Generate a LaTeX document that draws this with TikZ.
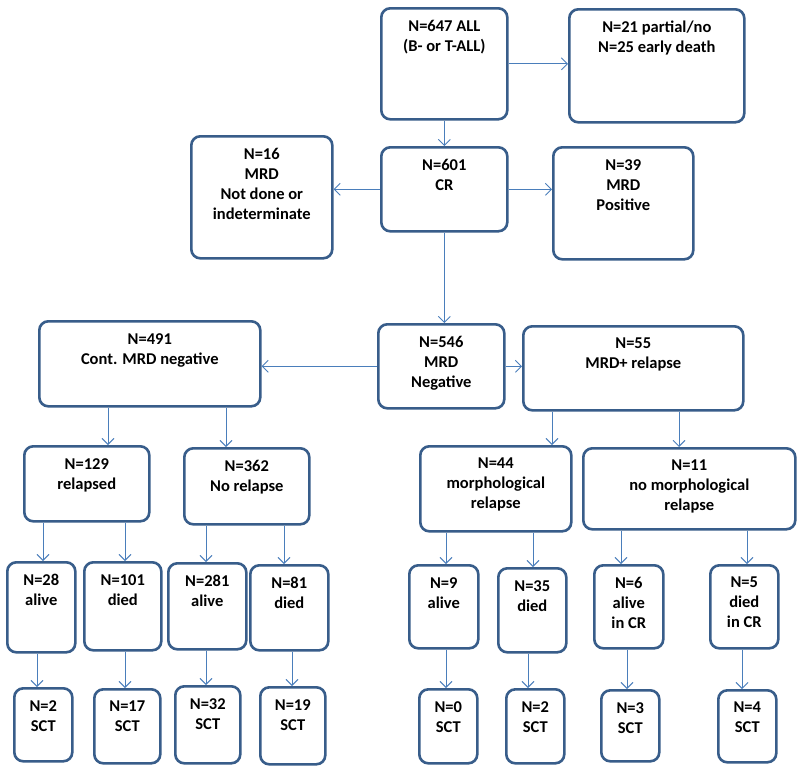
\documentclass[tikz,border=0pt]{standalone}
\usepackage{fontspec}
\setmainfont{Carlito}
\usetikzlibrary{arrows.meta}

\definecolor{boxblue}{RGB}{56,93,138}
\definecolor{arrowblue}{RGB}{74,126,187}

\newcommand{\boxfont}{\fontsize{16.5}{20}\selectfont\bfseries}

\tikzset{
	box/.style={draw=boxblue, line width=2.6pt, rounded corners=9pt, inner sep=0pt, anchor=north west},
	txt/.style={anchor=north, align=center, font=\boxfont, inner sep=0pt},
	arr/.style={draw=arrowblue, line width=0.9pt, -{Straight Barb[length=6pt,width=12pt]}}
}

% name, x, y, width, height, text
\newcommand{\flowbox}[6]{%
	\node[box, minimum width=#4pt, minimum height=#5pt] (#1) at (#2,#3) {};
	\node[txt] (#1-t) at ([yshift=-13pt]#1.north) {#6};
}

\begin{document}
\begin{tikzpicture}[x=1pt, y=-1pt]
			\useasboundingbox[fill=white] (0,0) rectangle (800,769);
			
			% top levels
			\flowbox{all}{380}{7}{126}{111}{N=647 ALL\\(B- or T-ALL)}
			\flowbox{early}{568}{8}{175}{113}{N=21 partial/no\\N=25 early death}
			\flowbox{cr}{380}{146}{126}{84}{N=601\\CR}
			\flowbox{mrdnd}{190}{135}{141}{122}{N=16\\MRD\\Not done or\\indeterminate}
			\flowbox{mrdpos}{552}{146}{140}{112}{N=39\\MRD\\Positive}
			\flowbox{neg}{377}{323}{126}{84}{N=546\\MRD\\Negative}
			\flowbox{cont}{38}{320}{221}{85}{N=491\\Cont. MRD negative}
			\flowbox{mrdrel}{522}{325}{220}{84}{N=55\\MRD+ relapse}
			
			% relapse or not
			\flowbox{rel}{23}{445}{125}{75}{N=129\\relapsed}
			\flowbox{norel}{183}{447}{125}{76}{N=362\\No relapse}
			\flowbox{morph}{419}{445}{151}{85}{N=44\\morphological\\relapse}
			\flowbox{nomorph}{582}{447}{212}{81}{N=11\\no morphological\\relapse}
			
			% outcome
			\flowbox{relalive}{6}{561}{68}{90}{N=28\\alive}
			\flowbox{reldied}{83}{561}{77}{88}{N=101\\died}
			\flowbox{noralive}{167}{562}{78}{86}{N=281\\alive}
			\flowbox{nordied}{249}{564}{78}{85}{N=81\\died}
			\flowbox{moralive}{408}{564}{69}{83}{N=9\\alive}
			\flowbox{mordied}{497}{567}{68}{84}{N=35\\died}
			\flowbox{nomalive}{593}{564}{69}{83}{N=6\\alive\\in CR}
			\flowbox{nomdied}{709}{564}{68}{83}{N=5\\died\\in CR}
			
			% transplant
			\flowbox{sct1}{13}{687}{58}{73}{N=2\\SCT}
			\flowbox{sct2}{93}{688}{66}{74}{N=17\\SCT}
			\flowbox{sct3}{174}{685}{65}{77}{N=32\\SCT}
			\flowbox{sct4}{259}{686}{65}{77}{N=19\\SCT}
			\flowbox{sct5}{418}{688}{58}{74}{N=0\\SCT}
			\flowbox{sct6}{505}{688}{58}{74}{N=2\\SCT}
			\flowbox{sct7}{600}{689}{58}{71}{N=3\\SCT}
			\flowbox{sct8}{717}{689}{58}{72}{N=4\\SCT}
			
			\draw[arr] (all.east) -- (all.east -| early.west);
			\draw[arr] (all.south) -- (all.south |- cr.north);
			\draw[arr] (cr.west) -- (cr.west -| mrdnd.east);
			\draw[arr] (cr.east) -- (cr.east -| mrdpos.west);
			\draw[arr] (cr.south) -- (cr.south |- neg.north);
			\draw[arr] (neg.west) -- (neg.west -| cont.east);
			\draw[arr] (neg.east) -- (neg.east -| mrdrel.west);
			
			\foreach \from/\to/\xx in {cont/rel/108, cont/norel/226, mrdrel/morph/552, mrdrel/nomorph/679,
				rel/relalive/43, rel/reldied/125, norel/noralive/206, norel/nordied/284,
				morph/moralive/446, morph/mordied/533, nomorph/nomalive/621, nomorph/nomdied/747,
				relalive/sct1/37, reldied/sct2/125, noralive/sct3/206, nordied/sct4/292,
				moralive/sct5/446, mordied/sct6/528, nomalive/sct7/627, nomdied/sct8/742}
				\draw[arr] (\from.south -| \xx,0) -- (\to.north -| \xx,0);
\end{tikzpicture}
\end{document}
